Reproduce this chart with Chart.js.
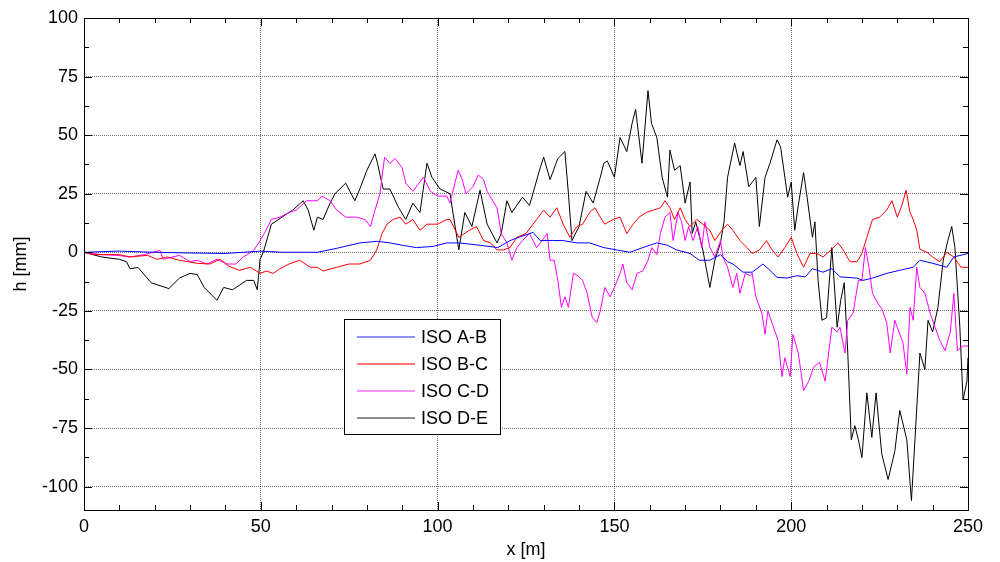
<!DOCTYPE html>
<html>
<head>
<meta charset="utf-8">
<script src="https://cdn.jsdelivr.net/npm/chart.js@4"></script>
<style>body{margin:0;background:#fff}</style>
</head>
<body>
<canvas id="chart" width="1000" height="562"></canvas>
<script>
// series names
var seriesNames = ['ISO A-B', 'ISO B-C', 'ISO C-D', 'ISO D-E'];
var seriesColors = ['#0000ff', '#ff0000', '#ff00ff', '#000000'];
var legendColors = ['#6f6fff', '#ff4a4a', '#f070f0', '#6a6a6a'];

// y tick labels
var yTicks = [-100, -75, -50, -25, 0, 25, 50, 75, 100];

// ISO A-B
var abX = [0, 10, 20, 30, 40, 50, 56, 66, 71.5, 78, 83, 86.5, 90, 94, 98.7, 102.6, 106, 112, 117, 120.5, 123, 127, 129, 132.6, 135.5, 139.4, 143, 147, 150.7, 154.4, 158, 162, 165, 167.6, 171.4, 174, 177, 180, 182, 183.5, 186.4, 189, 192, 194, 196, 198.8, 201.6, 204, 206, 209, 211.5, 213.8, 218.6, 220.3, 223, 227, 230.7, 234.5, 236.4, 240, 244, 246, 250];
var abY = [0, 0.5, 0, -0.3, -0.5, 0.5, 0, 0, 1.7, 4, 4.7, 4, 3, 2, 2.5, 4, 4, 3, 2, 5, 6.4, 8.5, 5, 5, 5, 4, 4, 2, 1, 0, 2, 4, 3, 1, -0.5, -3.4, -3.4, -1, -4, -5, -8.5, -8.5, -5, -7.7, -10.7, -11, -10, -10.5, -7, -8.5, -7, -10.5, -11, -12, -11, -9, -7.7, -6.4, -3.4, -4.7, -6.4, -2, -0.5];

// ISO B-C
var bcX = [0, 3, 10, 13, 18, 20.6, 23.5, 27, 32, 35.6, 38.5, 41, 44, 47, 49.8, 51.6, 53.5, 55.4, 58, 61, 64, 66, 67.6, 71.5, 75, 78, 81, 82.8, 84.3, 85.7, 87.4, 89.4, 91, 93, 95, 97, 100, 102.6, 103.5, 106, 109, 111, 113, 115, 116.8, 118.6, 120.5, 122.4, 125, 128, 130, 131.8, 133.7, 135.5, 137.4, 139.4, 141, 143, 144.5, 146, 147.3, 149.6, 151.6, 153.5, 155.3, 157, 159, 161, 163, 164.3, 165.7, 167, 168.6, 170, 171.4, 173.3, 175, 177, 178.4, 180.4, 182, 183.5, 185.5, 187.5, 189, 191, 193, 194.6, 196.3, 198.2, 200, 201.6, 203.5, 205.3, 207.3, 209, 211.5, 213.2, 214.6, 216.6, 218.6, 220, 221.4, 223, 225, 227, 228.5, 230, 231.3, 232.5, 233.6, 234.5, 235.5, 236.4, 238.4, 240, 242, 244, 246, 248, 250];
var bcY = [0, -1, -1, -2, -1.3, -3, -2, -3.4, -4.7, -5, -3, -6, -7.7, -6.4, -9, -8, -9, -7, -5, -3.4, -6.4, -6.4, -8, -6.4, -5, -5, -3.4, 1, 8, 12, 14, 15, 12, 14, 9.4, 12, 12, 14, 14, 6.4, 9.4, 11, 5, 4, 1, 1, 2, 6.4, 8, 14, 18, 15, 19, 12, 6.4, 11, 12, 17, 19, 15, 12, 14, 15, 8, 12, 15, 17, 18, 19, 22, 19, 14, 19, 14, 11, 14, 12, 9.4, 5, 9.4, 12, 9.4, 5, 2, -0.5, 1, 5, 1, -2, 2, 6.4, -0.5, -6.4, -0.5, -0.5, -2, 1.3, 4, 1.3, -4, -4, -0.5, 6.4, 14, 15, 18, 22, 15, 20, 26.5, 17, 14, 9.4, 1.3, 0, -2, -4, 0, -2, -6.4, -6.4];

// ISO C-D
var cdX = [0, 5, 9.3, 13, 17, 21.5, 22.4, 27, 30, 32, 34.8, 37.6, 40.4, 43, 45, 48, 49.8, 51, 53, 55.4, 58, 60, 63, 66, 67.3, 69.6, 71.5, 74, 77, 79.5, 81, 82.3, 83.7, 85, 86.5, 88, 90, 91, 93, 96, 98, 100, 102.6, 103.5, 105.8, 107, 108, 110, 111.5, 113, 114, 115, 116.8, 118, 119.6, 121, 122.4, 124, 126, 128, 130, 131, 131.8, 133, 134, 135, 136, 137, 138.4, 139.7, 141, 142.3, 143.7, 145, 146, 147.3, 148.8, 150, 151.6, 152.4, 153.5, 155, 156.4, 158, 159.5, 160.6, 162, 163, 164.3, 165.7, 166.6, 168, 169, 170, 171, 172.2, 173.6, 174.7, 175.6, 177, 178.4, 180, 180.7, 182, 183.5, 184.6, 185.5, 187, 188.3, 189, 190, 191.7, 192.6, 193.4, 195, 196.3, 197.4, 198.2, 199.7, 200.5, 202, 203.5, 205, 206.3, 208, 209.6, 211.5, 213, 213.8, 215.2, 216, 217.5, 219, 220, 221, 222, 223, 224.6, 225.6, 227, 228, 229.3, 230, 231.6, 232.7, 233.6, 234.5, 235.5, 236.4, 237.8, 239.3, 240.7, 242, 243.5, 245, 246, 247, 248.5, 250];
var cdY = [0, -1, -1.3, -2, -1, 0.8, -3, -1.3, -4, -3.4, -5, -3, -5, -5, -2, 0.8, 5, 8, 14, 15, 17, 18, 22, 22, 24, 22, 18, 15, 15, 14, 11, 18, 25, 40.6, 38, 40, 36, 29.5, 26, 32, 26, 24, 24, 21, 35, 31, 25, 28, 33, 31, 26, 23.5, 19, 8, 4, -3.4, 2, 5, 8, 2, 6, 8, -3.4, -3.4, -12, -23.5, -19, -23.5, -9, -10, -12, -17.5, -27.6, -30, -25, -15, -19, -15, -9, -5, -13, -16, -9, -8, -3.4, 2, -1, 8, 15, 17, 5, 17, 13, 5, 11, 5, 11, 2, 13, 2, -2, 5, -2, -6.4, -15, -9, -17.5, -9, -10, -9, -19, -26, -35, -25, -32, -37.6, -53, -45, -53, -35, -43, -59, -55, -49, -47, -55, -32, -34, -32, -43, -29, -26, -12, -12, 2, -6.4, -17.5, -22, -24, -30, -43, -29, -32, -38.6, -52, -23.5, -29, -6.4, -15, -17.5, -26, -32, -37.6, -42, -34, -17.5, -42, -40, -40];

// ISO D-E
var deX = [0, 5, 10, 12, 13, 15.3, 19, 24, 27, 30, 32, 34, 37.6, 39.5, 42, 46, 48, 49, 49.8, 50.7, 53, 56, 59, 62, 63.4, 65, 66, 67.6, 69.6, 71, 74, 76.6, 78, 80, 82.3, 83, 84.6, 86.5, 89, 91, 93, 95, 97, 98.4, 100.7, 103.5, 106, 107.7, 109.7, 112, 114, 116.8, 118, 119.6, 121, 124, 126, 129, 130, 131.8, 134, 136, 137, 138, 140, 142, 144, 146, 147, 148, 150, 151.6, 153.5, 155, 156, 157.8, 159.5, 160.5, 162, 163.5, 165, 165.7, 167, 168.6, 170, 171.4, 172, 173, 175, 177, 178.4, 180, 181, 182, 184, 185.5, 186.4, 188, 190, 191, 192.6, 194, 196, 197, 199, 200, 201, 202, 203.5, 204.5, 206, 206.7, 207.6, 208.7, 210, 211.5, 213, 214, 215, 216, 217, 218, 219, 220, 221.4, 222.8, 224, 225.6, 227.4, 229.3, 230.7, 232.7, 234, 235, 236.4, 237.8, 238.7, 240, 241.5, 243, 244.3, 245.4, 246.3, 247.7, 248.6, 249.7, 250];
var deY = [0, -2, -3, -4, -7, -6.5, -13, -15.5, -11, -9, -9.5, -15, -20.5, -15, -16, -12, -12, -16, -3, 0, 12, 15, 18, 22, 18, 9.4, 15, 14, 21, 25, 29.5, 22, 27, 35, 42, 38, 27, 27, 19, 14, 21, 17, 38, 32, 27, 25, 1, 17, 11, 26.5, 12, 4, 8, 22, 17, 23.5, 20, 36, 40.6, 31, 40, 43, 25, 5, 11, 26, 21, 32, 38, 39, 32, 49, 43, 55, 61, 38, 69, 55, 49, 32, 23.5, 43.6, 35, 37, 21, 30, 8, 13, 1, -15, -3.4, 4, 13, 32, 46.6, 37, 43, 28, 32, 11, 32, 38, 48, 45, 23.5, 30, 9.4, 20, 34, 23.5, 6.4, 13, -12, -29, -28, 2, -32, -20.5, -13, -43, -80, -74, -80, -87.6, -60, -79, -60, -86, -97, -85, -67.5, -80, -106, -80, -43, -50, -29, -34, -23.5, -3.4, 5, 11, 2, -32, -63, -55, -45];

function pts(xs, ys) {
    return xs.map(function (x, i) { return { x: x, y: ys[i] }; });
}

var frameTicks = {
    id: 'frameTicks',
    afterDatasetsDraw: function (chart) {
        var ctx = chart.ctx, a = chart.chartArea;
        var sx = chart.scales.x, sy = chart.scales.y;
        ctx.save();
        ctx.strokeStyle = '#000';
        ctx.lineWidth = 1;
        ctx.beginPath();
        for (var v = 0; v <= 250; v += 10) {
            var px = Math.round(sx.getPixelForValue(v)) + 0.5;
            var len = v % 50 === 0 ? 8 : 5;
            ctx.moveTo(px, a.bottom); ctx.lineTo(px, a.bottom - len);
            ctx.moveTo(px, a.top); ctx.lineTo(px, a.top + len);
        }
        for (var w = -100; w <= 100; w += 12.5) {
            var py = Math.round(sy.getPixelForValue(w)) + 0.5;
            var l2 = w % 25 === 0 ? 8 : 5;
            ctx.moveTo(a.left, py); ctx.lineTo(a.left + l2, py);
            ctx.moveTo(a.right, py); ctx.lineTo(a.right - l2, py);
        }
        ctx.stroke();
        ctx.strokeRect(Math.round(a.left) + 0.5, Math.round(a.top) + 0.5,
            Math.round(a.right - a.left), Math.round(a.bottom - a.top));

        // legend box inside the plot
        var bx = 344.5, by = 319.5, bw = 156, bh = 115;
        ctx.fillStyle = '#fff';
        ctx.fillRect(bx, by, bw, bh);
        ctx.strokeRect(bx, by, bw, bh);
        ctx.font = '18px "Liberation Sans", Arial, sans-serif';
        ctx.textBaseline = 'middle';
        for (var i = 0; i < seriesNames.length; i++) {
            var yy = 337 + i * 27;
            ctx.lineWidth = 1.5;
            ctx.strokeStyle = legendColors[i];
            ctx.beginPath();
            ctx.moveTo(357, yy); ctx.lineTo(415, yy);
            ctx.stroke();
            ctx.fillStyle = '#000';
            ctx.fillText(seriesNames[i], 421, yy + 1);
        }
        ctx.restore();
    }
};

var datasets = seriesNames.map(function (name, i) {
    var xs = [abX, bcX, cdX, deX][i], ys = [abY, bcY, cdY, deY][i];
    return {
        label: name,
        data: pts(xs, ys),
        borderColor: seriesColors[i],
        borderWidth: 1,
        pointRadius: 0,
        tension: 0,
        fill: false
    };
});

var tickFont = { family: '"Liberation Sans", Arial, sans-serif', size: 18 };

new Chart(document.getElementById('chart').getContext('2d'), {
    type: 'line',
    data: { datasets: datasets },
    options: {
        responsive: false,
        animation: false,
        devicePixelRatio: 1,
        layout: { padding: { top: 18, right: 32, left: 0, bottom: 0 } },
        plugins: { legend: { display: false }, tooltip: { enabled: false } },
        scales: {
            x: {
                type: 'linear', min: 0, max: 250,
                ticks: { stepSize: 50, font: tickFont, color: '#000', padding: 6, maxRotation: 0 },
                grid: { color: 'rgba(0,0,0,0.55)', drawTicks: false },
                border: { display: false, dash: [1, 1] },
                title: { display: true, text: 'x [m]', font: tickFont, color: '#000', padding: { top: 0, bottom: 1 } },
                afterFit: function (s) { s.height = 52; }
            },
            y: {
                type: 'linear', min: -110, max: 100,
                afterBuildTicks: function (s) { s.ticks = yTicks.map(function (v) { return { value: v }; }); },
                ticks: { font: tickFont, color: '#000', padding: 6 },
                grid: { color: 'rgba(0,0,0,0.55)', drawTicks: false },
                border: { display: false, dash: [1, 1] },
                title: { display: true, text: 'h [mm]', font: tickFont, color: '#000', padding: { top: 10, bottom: 0 } },
                afterFit: function (s) { s.width = 84; }
            }
        }
    },
    plugins: [frameTicks]
});
</script>
</body>
</html>
